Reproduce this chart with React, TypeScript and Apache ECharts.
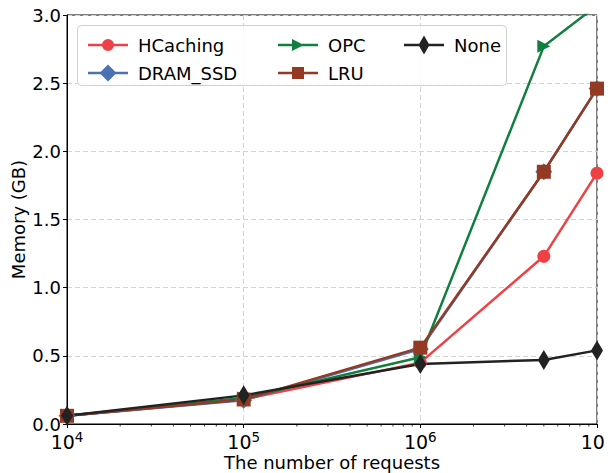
import React, { useEffect, useRef } from "react";
import * as echarts from "echarts";

const requests = [1e4, 1e5, 1e6, 5e6, 1e7];
const hcaching = [0.06, 0.18, 0.45, 1.23, 1.84];
const dramSsd = [0.06, 0.175, 0.55, 1.85, 2.46];
const opc = [0.06, 0.19, 0.49, 2.77, 3.07];
const lru = [0.06, 0.18, 0.56, 1.85, 2.46];
const none = [0.06, 0.21, 0.44, 0.47, 0.54];
const minorTickValues = [
  2e4, 3e4, 4e4, 5e4, 6e4, 7e4, 8e4, 9e4,
  2e5, 3e5, 4e5, 5e5, 6e5, 7e5, 8e5, 9e5,
  2e6, 3e6, 4e6, 5e6, 6e6, 7e6, 8e6, 9e6,
];

const FONT = "DejaVu Sans";

const pair = (ys: number[]) => requests.map((x, i) => [x, ys[i]]);

// Legend icons: line + marker drawn in a 40x20 box (all sub-paths clockwise)
const SPECKS = "M20,0 L20.01,0 L20.01,0.01 Z M20,19.99 L20.01,19.99 L20.01,20 Z ";
const lineSeg = (a: number, b: number) => `M${a},8.75 L${b},8.75 L${b},11.25 L${a},11.25 Z `;
const ICON_CIRCLE =
  "path://" + SPECKS + lineSeg(0, 40) + "M14,10 A6,6 0 1,1 26,10 A6,6 0 1,1 14,10 Z";
const ICON_DIAMOND =
  "path://" + SPECKS + lineSeg(0, 40) + "M11.5,10 L20,1.5 L28.5,10 L20,18.5 Z";
const ICON_TRI =
  "path://" + SPECKS + lineSeg(0, 40) + "M14,4 L26,10 L14,16 Z";
const ICON_SQUARE =
  "path://" + SPECKS + lineSeg(0, 40) + "M14,4 L26,4 L26,16 L14,16 Z";
const ICON_THIN =
  "path://" + SPECKS + lineSeg(0, 40) + "M14.5,10 L20,0.5 L25.5,10 L20,19.5 Z";

export default function App() {
  const ref = useRef<HTMLDivElement>(null);
  useEffect(() => {
    if (!ref.current) return;
    const chart = echarts.init(ref.current, undefined, { renderer: "svg" });
    const lineSeries = (
      name: string,
      ys: number[],
      color: string,
      symbol: string,
      symbolSize: any
    ) => ({
      name,
      type: "line",
      data: pair(ys),
      color,
      symbol,
      symbolSize,
      showSymbol: true,
      lineStyle: { color, width: 2.5 },
      itemStyle: { color, borderWidth: 0 },
      clip: true,
      z: 3,
    });
    const legendCommon = {
      orient: "vertical",
      itemWidth: 40,
      itemHeight: 20,
      itemGap: 8,
      symbolKeepAspect: false,
      itemStyle: { borderWidth: 0 },
      textStyle: { fontFamily: FONT, fontSize: 18, color: "#000", lineHeight: 20, padding: [0, 0, 0, 5] },
      selectedMode: false,
      z: 10,
    };
    chart.setOption({
      animation: false,
      grid: {
        left: 67,
        right: 15,
        top: 15,
        bottom: 49,
        show: true,
        borderColor: "#000",
        borderWidth: 1,
        backgroundColor: "transparent",
        outerBoundsMode: "none",
        containLabel: false,
      },
      xAxis: {
        type: "log",
        logBase: 10,
        min: 1e4,
        max: 1e7,
        name: "The number of requests",
        nameLocation: "middle",
        nameGap: 29,
        nameMoveOverlap: false,
        nameTextStyle: { fontFamily: FONT, fontSize: 18, color: "#000" },
        axisLine: { show: true, lineStyle: { color: "#000", width: 1 } },
        axisTick: { show: true, length: 4, lineStyle: { color: "#000" } },
        axisLabel: {
          margin: 6,
          hideOverlap: false,
          formatter: (v: number) => `{b|10}{s|${Math.round(Math.log10(v))}}`,
          rich: {
            b: { fontFamily: FONT, fontSize: 19, color: "#000", lineHeight: 23 },
            s: { fontFamily: FONT, fontSize: 13.5, color: "#000", verticalAlign: "top", lineHeight: 23 },
          },
        },
        splitLine: { show: true, lineStyle: { color: "#d4d4d4", type: [5, 3], width: 1 } },
        minorTick: { show: false },
      },
      yAxis: {
        type: "value",
        min: 0,
        max: 3,
        interval: 0.5,
        name: "Memory (GB)",
        nameLocation: "middle",
        nameGap: 40,
        nameMoveOverlap: false,
        nameTextStyle: { fontFamily: FONT, fontSize: 18, color: "#000" },
        axisLine: { show: true, lineStyle: { color: "#000", width: 1 } },
        axisTick: { show: true, length: 4, lineStyle: { color: "#000" } },
        axisLabel: {
          margin: 6,
          fontFamily: FONT,
          fontSize: 18,
          color: "#000",
          formatter: (v: number) => v.toFixed(1),
        },
        splitLine: { show: true, lineStyle: { color: "#d4d4d4", type: [5, 3], width: 1 } },
      },
      legend: [
        {
          ...legendCommon,
          left: 83,
          top: 30,
          data: [
            { name: "HCaching", icon: ICON_CIRCLE },
            { name: "DRAM_SSD", icon: ICON_DIAMOND },
          ],
        },
        {
          ...legendCommon,
          left: 273,
          top: 30,
          data: [
            { name: "OPC", icon: ICON_TRI },
            { name: "LRU", icon: ICON_SQUARE },
          ],
        },
        {
          ...legendCommon,
          left: 399,
          top: 30,
          data: [{ name: "None", icon: ICON_THIN }],
        },
      ],
      graphic: [
        {
          type: "rect",
          left: 77,
          top: 25,
          shape: { width: 429, height: 60, r: 4 },
          style: { fill: "rgba(255,255,255,0.85)", stroke: "#d0d0d0", lineWidth: 1 },
          z: 9,
        },
      ],
      series: [
        lineSeries("HCaching", hcaching, "#EF4045", "circle", 13),
        lineSeries("DRAM_SSD", dramSsd, "#4A72B2", "diamond", 17),
        lineSeries("OPC", opc, "#117F3F", "path://M0,0 L10,5 L0,10 Z", 13),
        lineSeries("LRU", lru, "#943A22", "rect", 14),
        lineSeries("None", none, "#222222", "diamond", [12, 20]),
        {
          type: "custom",
          silent: true,
          clip: false,
          data: minorTickValues.map((v) => [v, 0]),
          renderItem: (params: any, api: any) => {
            const p = api.coord([api.value(0), 0]);
            return {
              type: "line",
              shape: { x1: p[0], y1: p[1], x2: p[0], y2: p[1] + 2.5 },
              style: { stroke: "#000", lineWidth: 0.8 },
            };
          },
          z: 5,
        },
      ],
    });
    return () => chart.dispose();
  }, []);
  return <div ref={ref} style={{ width: 612, height: 473, marginLeft: -8, marginTop: -8 }} />;
}
